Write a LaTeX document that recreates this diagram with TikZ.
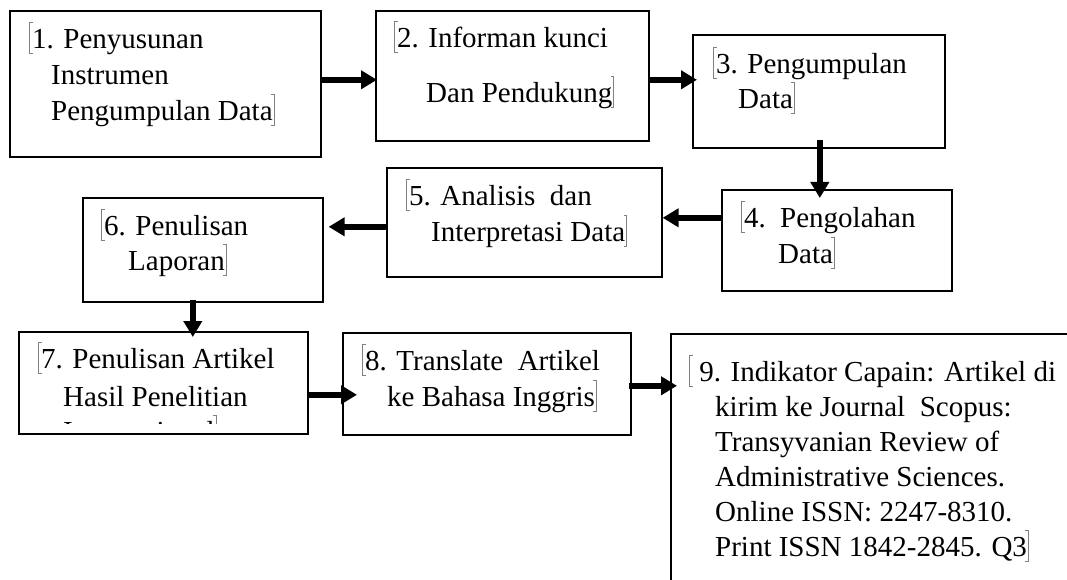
\documentclass[tikz,border=0pt]{standalone}
\usepackage{fontspec}
\setmainfont{Liberation Serif}
\usetikzlibrary{arrows.meta}

\newcommand{\bmo}{\textcolor{black!50}{\rule[-6pt]{0.8pt}{32pt}\rlap{\rule[-6pt]{2.5pt}{0.8pt}}\rlap{\rule[25.2pt]{2.5pt}{0.8pt}}}\hspace{2pt}}
\newcommand{\bmc}{\hspace{1pt}\textcolor{black!50}{\llap{\rule[-6pt]{2.5pt}{0.8pt}}\llap{\rule[25.2pt]{2.5pt}{0.8pt}}\rule[-6pt]{0.8pt}{32pt}}}

\tikzset{
	box/.style={draw, line width=1.6pt, anchor=north west, inner sep=0pt},
	txt/.style={anchor=north west, align=left, inner sep=0pt, font=\fontsize{29}{35}\selectfont},
	arr/.style={line width=5.5pt, -{Triangle[length=16pt,width=18pt]}}
}

\begin{document}
\begin{tikzpicture}[x=1pt,y=1pt]
	\useasboundingbox[fill=white] (0,0) rectangle (1067,-580);
	\clip (0,0) rectangle (1067,-580);
	\node[box, minimum width=311, minimum height=146] (b1) at (9,-10) {};
	\node[box, minimum width=273, minimum height=130] (b2) at (375,-10) {};
	\node[box, minimum width=252, minimum height=113] (b3) at (692,-34) {};
	\node[box, minimum width=230, minimum height=101] (b4) at (721,-189) {};
	\node[box, minimum width=275, minimum height=109] (b5) at (386,-167) {};
	\node[box, minimum width=240, minimum height=104] (b6) at (82,-197) {};
	\node[box, minimum width=289, minimum height=102] (b7) at (18,-331) {};
	\node[box, minimum width=288, minimum height=102] (b8) at (342,-332) {};
	\node[box, minimum width=430, minimum height=300] (b9) at (670,-333) {};
	\node[txt] (t1) at (29,-22) {\bmo 1. Penyusunan\\[1pt]\hspace*{22pt}Instrumen\\[1pt]\hspace*{22pt}Pengumpulan Data\bmc};
	\node[txt] (t2) at (394,-21) {\bmo 2. Informan kunci\\[20pt]\hspace*{32pt}Dan Pendukung\bmc};
	\node[txt] (t3) at (713,-47) {\bmo 3. Pengumpulan\\\hspace*{25pt}Data\bmc};
	\node[txt] (t4) at (741,-201) {\bmo 4.\ \ Pengolahan\\[1pt]\hspace*{37pt}Data\bmc};
	\node[txt] (t5) at (406,-179) {\bmo 5. Analisis\ \ dan\\[1pt]\hspace*{25pt}Interpretasi Data\bmc};
	\node[txt] (t6) at (101,-209) {\bmo 6. Penulisan\\\hspace*{27pt}Laporan\bmc};
	\begin{scope}
		\clip (18,-331) rectangle (307,-423);
		\node[txt] (t7) at (38,-342) {\bmo 7. Penulisan Artikel\\[3pt]\hspace*{25pt}Hasil Penelitian\\\hspace*{25pt}Internasional\bmc};
	\end{scope}
	\node[txt] (t8) at (362,-344) {\bmo 8. Translate\ \ Artikel\\[1pt]\hspace*{25pt}ke Bahasa Inggris\bmc};
	\node[txt] (t9) at (689,-355) {\bmo\ 9. Indikator Capain: Artikel di\\\hspace*{26pt}kirim ke Journal\ \ Scopus:\\\hspace*{26pt}Transyvanian Review of\\\hspace*{26pt}Administrative Sciences.\\\hspace*{26pt}Online ISSN: 2247-8310.\\\hspace*{26pt}Print ISSN 1842-2845. Q3\bmc};
	\draw[arr] ([yshift=4]b1.east) -- ([xshift=2,yshift=-4]b2.west);
	\draw[arr] ([yshift=-4]b2.east) -- ([xshift=5,yshift=11.5]b3.west);
	\draw[arr] ([xshift=1,yshift=9]b3.south) -- ([xshift=-17,yshift=-9]b4.north);
	\draw[arr] ([yshift=22.5]b4.west) -- ([yshift=4.5]b5.east);
	\draw[arr] ([yshift=-4.5]b5.west) -- ([xshift=5,yshift=23]b6.east);
	\draw[arr] ([xshift=-10,yshift=3]b6.south) -- ([xshift=29.5,yshift=-6]b7.north);
	\draw[arr] ([yshift=-12]b7.east) -- ([xshift=15,yshift=-11]b8.west);
	\draw[arr] ([xshift=-3,yshift=-2]b8.east) -- ([xshift=7,yshift=98]b9.west);
\end{tikzpicture}
\end{document}
